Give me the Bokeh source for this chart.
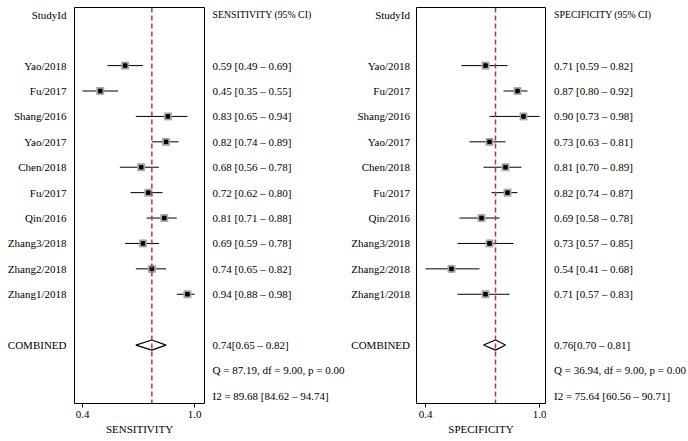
from bokeh.plotting import figure
from bokeh.models import Range1d, Span, FixedTicker
from bokeh.layouts import row
from bokeh.core.properties import value
from bokeh.embed import file_html
from bokeh.resources import INLINE

# ---------------- data ----------------
studies = ["Yao/2018", "Fu/2017", "Shang/2016", "Yao/2017", "Chen/2018",
           "Fu/2017", "Qin/2016", "Zhang3/2018", "Zhang2/2018", "Zhang1/2018"]

sens = [0.59, 0.45, 0.83, 0.82, 0.68, 0.72, 0.81, 0.69, 0.74, 0.94]
sens_lo = [0.49, 0.35, 0.65, 0.74, 0.56, 0.62, 0.71, 0.59, 0.65, 0.88]
sens_hi = [0.69, 0.55, 0.94, 0.89, 0.78, 0.80, 0.88, 0.78, 0.82, 0.98]
sens_combined = [0.74, 0.65, 0.82]
sens_q = [87.19, 9.00, 0.00]
sens_i2 = [89.68, 84.62, 94.74]
sens_tick_labels = ["0.4", "1.0"]

spec = [0.71, 0.87, 0.90, 0.73, 0.81, 0.82, 0.69, 0.73, 0.54, 0.71]
spec_lo = [0.59, 0.80, 0.73, 0.63, 0.70, 0.74, 0.58, 0.57, 0.41, 0.57]
spec_hi = [0.82, 0.92, 0.98, 0.81, 0.89, 0.87, 0.78, 0.85, 0.68, 0.83]
spec_combined = [0.76, 0.70, 0.81]
spec_q = [36.94, 9.00, 0.00]
spec_i2 = [75.64, 60.56, 90.71]
spec_tick_labels = ["0.4", "1.0"]

# ---------------- styling ----------------
FONT = value("Liberation Serif")
FS = value("11px")
FS_HEAD = value("9.8px")
FRAME_H = 396
TOP = 7
DASH_COLOR = "#b0305e"

n = len(studies)
study_rows = list(range(2, 2 + n))
comb_row = n + 3
q_row = n + 4
i2_row = n + 5
y_range = Range1d(15.3, -0.287)


def base_fig(frame_w, x_range, border_lr=0, axis=False):
    p = figure(frame_width=frame_w, frame_height=FRAME_H, x_range=x_range,
               y_range=y_range, output_backend="svg", toolbar_location=None,
               x_axis_location="below" if axis else None,
               y_axis_location=None, min_border_left=border_lr,
               min_border_right=border_lr, min_border_top=TOP,
               min_border_bottom=0)
    p.grid.visible = False
    p.outline_line_color = None
    p.background_fill_color = "white"
    p.border_fill_color = "white"
    return p


def label_fig(frame_w, x_right):
    p = base_fig(frame_w, Range1d(0, frame_w))
    p.text(x=[x_right] * (n + 2), y=[0] + study_rows + [comb_row],
           text=["StudyId"] + studies + ["COMBINED"],
           text_font=FONT, text_font_size=FS, text_align="right",
           text_baseline="middle", text_color="black")
    return p


def text_fig(frame_w, x_left, header, est, lo, hi, comb, q, i2, comb_prefix=""):
    p = base_fig(frame_w, Range1d(0, frame_w))
    p.text(x=[x_left], y=[0], text=[header], text_font=FONT,
           text_font_size=FS_HEAD, text_align="left", text_baseline="middle",
           text_color="black")
    ci = [f"{e:.2f} [{l:.2f} \u2013 {h:.2f}]" for e, l, h in zip(est, lo, hi)]
    extra = [comb_prefix + f"{comb[0]:.2f}[{comb[1]:.2f} \u2013 {comb[2]:.2f}]",
             f"Q = {q[0]:.2f}, df = {q[1]:.2f}, p = {q[2]:.2f}",
             f"I2 = {i2[0]:.2f} [{i2[1]:.2f} \u2013 {i2[2]:.2f}]"]
    p.text(x=[x_left] * (n + 3), y=study_rows + [comb_row, q_row, i2_row],
           text=ci + extra, text_font=FONT, text_font_size=FS,
           text_align="left", text_baseline="middle", text_color="black")
    return p


def forest_fig(frame_w, xr, est, lo, hi, comb, axis_label, tick_labels):
    p = base_fig(frame_w, Range1d(*xr), border_lr=1, axis=True)
    p.outline_line_color = "black"
    p.outline_line_width = 1
    ticks = [min(lo), max(hi)]
    ax = p.xaxis[0]
    ax.ticker = FixedTicker(ticks=ticks)
    ax.major_label_overrides = dict(zip(ticks, tick_labels))
    ax.axis_line_color = None
    ax.major_tick_out = 4
    ax.major_tick_in = 0
    ax.minor_tick_line_color = None
    ax.major_tick_line_color = "black"
    ax.major_label_text_font = "Liberation Serif"
    ax.major_label_text_font_size = "11px"
    ax.major_label_text_color = "black"
    ax.major_label_standoff = 3
    ax.axis_label = axis_label
    ax.axis_label_text_font = "Liberation Serif"
    ax.axis_label_text_font_size = "11px"
    ax.axis_label_text_font_style = "normal"
    ax.axis_label_text_color = "black"
    ax.axis_label_standoff = 2

    p.add_layout(Span(location=comb[0], dimension="height",
                      line_color=DASH_COLOR, line_width=1.5, line_dash="5 3"))
    p.segment(x0=lo, y0=study_rows, x1=hi, y1=study_rows,
              line_color="black", line_width=1)
    p.scatter(x=est, y=study_rows, marker="square", size=7,
              fill_color="#a6a6a6", line_color="#a6a6a6")
    p.scatter(x=est, y=study_rows, marker="square", size=3.5,
              fill_color="black", line_color="black")
    h = 0.2
    p.patch(x=[comb[1], comb[0], comb[2], comb[0]],
            y=[comb_row, comb_row - h, comb_row, comb_row + h],
            fill_color="white", line_color="black", line_width=1.2)
    return p


pA = label_fig(73, 66)
pB = forest_fig(130, (0.305, 1.036), sens, sens_lo, sens_hi, sens_combined,
                "SENSITIVITY", sens_tick_labels)
pC = text_fig(143, 7, "SENSITIVITY (95% CI)", sens, sens_lo, sens_hi,
              sens_combined, sens_q, sens_i2)
pD = label_fig(67, 61.5)
pE = forest_fig(129, (0.365, 1.01), spec, spec_lo, spec_hi, spec_combined,
                "SPECIFICITY", spec_tick_labels)
pF = text_fig(140, 7.5, "SPECIFICITY (95% CI)", spec, spec_lo, spec_hi,
              spec_combined, spec_q, spec_i2, comb_prefix=" ")

layout = row(pA, pB, pC, pD, pE, pF, spacing=0)

open("out.html", "w").write(file_html(layout, INLINE))
